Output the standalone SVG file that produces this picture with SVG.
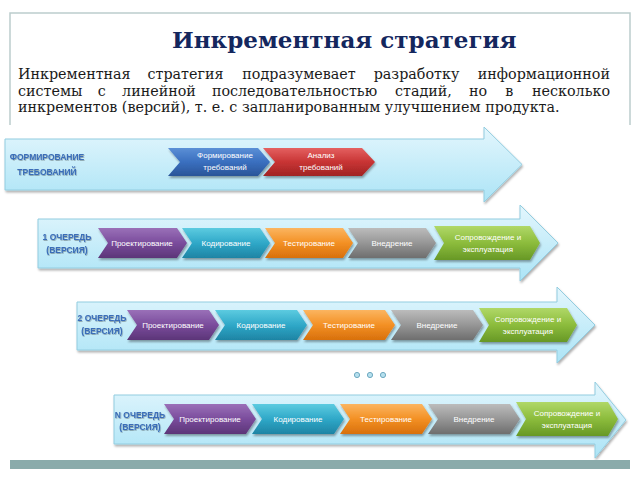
<svg xmlns="http://www.w3.org/2000/svg" width="640" height="480" viewBox="0 0 640 480">
<defs>
<linearGradient id="gArrow" x1="0" y1="0" x2="0" y2="1">
<stop offset="0" stop-color="#e3f6fd"/><stop offset="1" stop-color="#ace4f6"/>
</linearGradient>
<linearGradient id="gBlue" x1="0" y1="0" x2="0" y2="1"><stop offset="0" stop-color="#5b8fd6"/><stop offset="0.5" stop-color="#3a6fbf"/><stop offset="1" stop-color="#2a5598"/></linearGradient>
<linearGradient id="gRed" x1="0" y1="0" x2="0" y2="1"><stop offset="0" stop-color="#e46060"/><stop offset="0.5" stop-color="#c83434"/><stop offset="1" stop-color="#a02424"/></linearGradient>
<linearGradient id="gPurple" x1="0" y1="0" x2="0" y2="1"><stop offset="0" stop-color="#9a70b8"/><stop offset="0.5" stop-color="#7a4c9c"/><stop offset="1" stop-color="#5c3578"/></linearGradient>
<linearGradient id="gTeal" x1="0" y1="0" x2="0" y2="1"><stop offset="0" stop-color="#5ccbe0"/><stop offset="0.5" stop-color="#2fa8c8"/><stop offset="1" stop-color="#1e84a4"/></linearGradient>
<linearGradient id="gOrange" x1="0" y1="0" x2="0" y2="1"><stop offset="0" stop-color="#fbb560"/><stop offset="0.5" stop-color="#f39024"/><stop offset="1" stop-color="#d8700c"/></linearGradient>
<linearGradient id="gGray" x1="0" y1="0" x2="0" y2="1"><stop offset="0" stop-color="#bcbcbc"/><stop offset="0.5" stop-color="#969696"/><stop offset="1" stop-color="#6e6e6e"/></linearGradient>
<linearGradient id="gGreen" x1="0" y1="0" x2="0" y2="1"><stop offset="0" stop-color="#b0d868"/><stop offset="0.5" stop-color="#8cbc3c"/><stop offset="1" stop-color="#679826"/></linearGradient>
<filter id="shA" x="-5%" y="-20%" width="110%" height="150%"><feDropShadow dx="1" dy="2" stdDeviation="1.2" flood-color="#000" flood-opacity="0.3"/></filter>
<filter id="shC" x="-10%" y="-20%" width="120%" height="160%"><feDropShadow dx="1" dy="2" stdDeviation="1" flood-color="#000" flood-opacity="0.35"/></filter>
<filter id="shT" x="-10%" y="-30%" width="120%" height="180%"><feDropShadow dx="0.6" dy="0.8" stdDeviation="0.5" flood-color="#000" flood-opacity="0.35"/></filter>
</defs>
<style>
.frame{fill:none;stroke:#bccdcd;stroke-width:1.5}
.title{font-family:"DejaVu Serif",serif;font-weight:bold;font-size:23px;fill:#14275e}
.body{font-family:"DejaVu Serif",serif;font-size:14.3px;fill:#1a1a1a}
.big{fill:url(#gArrow);stroke:#92cde0;stroke-width:1;filter:url(#shA)}
.chev{stroke:none;filter:url(#shC)}
.ct{font-family:"Liberation Sans",Arial,sans-serif;font-size:8px;fill:#ffffff;text-anchor:middle}
.lab{font-family:"Liberation Sans",Arial,sans-serif;font-weight:bold;font-size:8.5px;fill:#3a6db8;text-anchor:middle;filter:url(#shT)}
.dot{fill:#b6e0ee;stroke:#6fa9c0;stroke-width:1}
</style>

<path class="frame" d="M10,125 V13 H630 V125"/>
<text class="title" x="172" y="48">Инкрементная стратегия</text>
<g id="intro">
<text class="body" y="79"><tspan x="18">Инкрементная</tspan><tspan x="185.5" text-anchor="middle">стратегия</tspan><tspan x="299" text-anchor="middle">подразумевает</tspan><tspan x="416.5" text-anchor="middle">разработку</tspan></text>
<text class="body" x="610" y="79" text-anchor="end">информационной</text>
<text class="body" y="95.5"><tspan x="18">системы</tspan><tspan x="101.7" text-anchor="middle">с</tspan><tspan x="159" text-anchor="middle">линейной</tspan><tspan x="294.5" text-anchor="middle">последовательностью</tspan><tspan x="395">стадий,</tspan><tspan x="478" text-anchor="middle">но</tspan><tspan x="509.3" text-anchor="middle">в</tspan></text>
<text class="body" x="610" y="95.5" text-anchor="end">несколько</text>
<text class="body" x="18" y="112">инкрементов (версий), т. е. с запланированным улучшением продукта.</text>
</g>

<g id="row1">
<path class="big" d="M5,139 H484 V127 L522,164.5 L484,202 V190 H5 Z"/>
<text class="lab" x="47" y="160">ФОРМИРОВАНИЕ</text>
<text class="lab" x="47" y="175">ТРЕБОВАНИЙ</text>
</g>
<g id="r1-form">
<path class="chev" fill="url(#gBlue)" d="M168,148 H258 L270,162 L258,176 H168 L180,162 Z"/>
<text class="ct" x="225" y="158">Формирование</text>
<text class="ct" x="225" y="169.5">требований</text>
</g>
<g id="r1-anal">
<path class="chev" fill="url(#gRed)" d="M263,148 H362 L375,162 L362,176 H263 L275,162 Z"/>
<text class="ct" x="321" y="158">Анализ</text>
<text class="ct" x="321" y="169.5">требований</text>
</g>

<g id="row2">
<path class="big" d="M38,219 H520 V205 L558,243 L520,281 V268 H38 Z"/>
<text class="lab" x="67" y="240">1 ОЧЕРЕДЬ</text>
<text class="lab" x="67" y="253">(ВЕРСИЯ)</text>
</g>
<g id="r2-proj"><path class="chev" fill="url(#gPurple)" d="M98,228 H177 L187,243 L177,258 H98 L108,243 Z"/><text class="ct" x="142" y="245.8">Проектирование</text></g>
<g id="r2-code"><path class="chev" fill="url(#gTeal)" d="M182,228 H260 L270,243 L260,258 H182 L192,243 Z"/><text class="ct" x="226" y="245.8">Кодирование</text></g>
<g id="r2-test"><path class="chev" fill="url(#gOrange)" d="M265,228 H343 L353,243 L343,258 H265 L275,243 Z"/><text class="ct" x="309" y="245.8">Тестирование</text></g>
<g id="r2-impl"><path class="chev" fill="url(#gGray)" d="M348,228 H426 L436,243 L426,258 H348 L358,243 Z"/><text class="ct" x="392" y="245.8">Внедрение</text></g>
<g id="r2-supp"><path class="chev" fill="url(#gGreen)" d="M434,226 H530 L540,243 L530,260 H434 L444,243 Z"/><text class="ct" x="488" y="240">Сопровождение и</text><text class="ct" x="488" y="251.5">эксплуатация</text></g>

<g id="row3">
<path class="big" d="M77,302 H557 V287 L595,325 L557,363 V350 H77 Z"/>
<text class="lab" x="102" y="321">2 ОЧЕРЕДЬ</text>
<text class="lab" x="102" y="334">(ВЕРСИЯ)</text>
</g>
<g id="r3-proj"><path class="chev" fill="url(#gPurple)" d="M127,310 H209 L219,325 L209,340 H127 L137,325 Z"/><text class="ct" x="173" y="327.8">Проектирование</text></g>
<g id="r3-code"><path class="chev" fill="url(#gTeal)" d="M215,310 H297 L307,325 L297,340 H215 L225,325 Z"/><text class="ct" x="261" y="327.8">Кодирование</text></g>
<g id="r3-test"><path class="chev" fill="url(#gOrange)" d="M303,310 H385 L395,325 L385,340 H303 L313,325 Z"/><text class="ct" x="349" y="327.8">Тестирование</text></g>
<g id="r3-impl"><path class="chev" fill="url(#gGray)" d="M391,310 H473 L483,325 L473,340 H391 L401,325 Z"/><text class="ct" x="437" y="327.8">Внедрение</text></g>
<g id="r3-supp"><path class="chev" fill="url(#gGreen)" d="M479,308 H567 L577,325 L567,342 H479 L489,325 Z"/><text class="ct" x="528" y="322">Сопровождение и</text><text class="ct" x="528" y="333.5">эксплуатация</text></g>

<g id="ellipsis">
<circle class="dot" cx="357" cy="375" r="2.6"/>
<circle class="dot" cx="370" cy="375" r="2.6"/>
<circle class="dot" cx="383" cy="375" r="2.6"/>
</g>

<g id="row4">
<path class="big" d="M114,395 H595 V382 L626,420 L595,458 V444 H114 Z"/>
<text class="lab" x="140" y="418">N ОЧЕРЕДЬ</text>
<text class="lab" x="140" y="430">(ВЕРСИЯ)</text>
</g>
<g id="r4-proj"><path class="chev" fill="url(#gPurple)" d="M164,404 H246 L256,419 L246,434 H164 L174,419 Z"/><text class="ct" x="210" y="421.8">Проектирование</text></g>
<g id="r4-code"><path class="chev" fill="url(#gTeal)" d="M252,404 H334 L344,419 L334,434 H252 L262,419 Z"/><text class="ct" x="298" y="421.8">Кодирование</text></g>
<g id="r4-test"><path class="chev" fill="url(#gOrange)" d="M340,404 H422 L432,419 L422,434 H340 L350,419 Z"/><text class="ct" x="386" y="421.8">Тестирование</text></g>
<g id="r4-impl"><path class="chev" fill="url(#gGray)" d="M428,404 H510 L520,419 L510,434 H428 L438,419 Z"/><text class="ct" x="474" y="421.8">Внедрение</text></g>
<g id="r4-supp"><path class="chev" fill="url(#gGreen)" d="M516,402 H608 L618,419 L608,436 H516 L526,419 Z"/><text class="ct" x="567" y="416">Сопровождение и</text><text class="ct" x="567" y="427.5">эксплуатация</text></g>

<g id="connectors"></g>

<rect x="10" y="460" width="620" height="9" fill="#8aabab"/>
</svg>
